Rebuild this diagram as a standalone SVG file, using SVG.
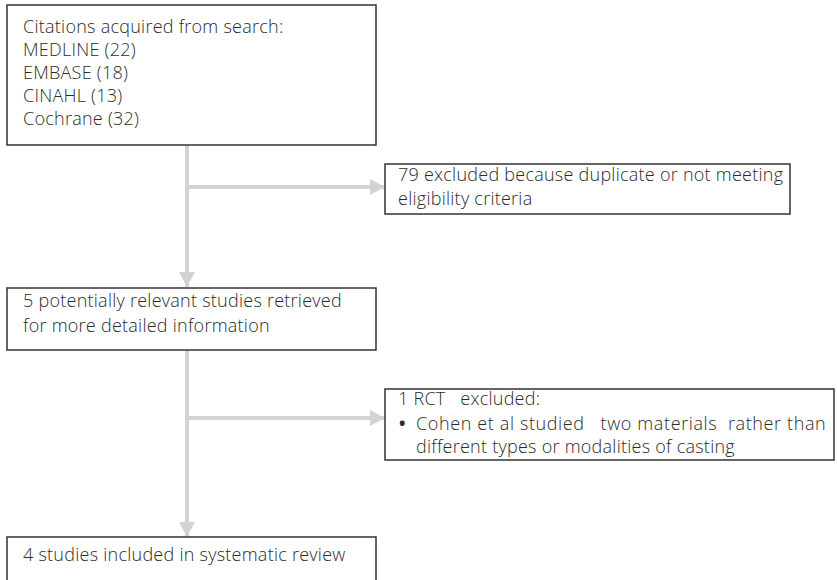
<svg xmlns="http://www.w3.org/2000/svg" width="837" height="580" viewBox="0 0 837 580">
<defs>
<style>
.box{fill:#fff;stroke:#333;stroke-width:1.5}
.t{font-family:"Open Sans","Noto Sans","Liberation Sans",sans-serif;font-size:18px;font-weight:300;letter-spacing:0.25px;fill:#2b2b2b;white-space:pre}
.b{font-family:"Open Sans","Noto Sans","Liberation Sans",sans-serif;font-size:17px;font-weight:700;fill:#2b2b2b}
.c{stroke:#d3d3d3;stroke-width:4;fill:none}
</style>
<marker id="ah" markerUnits="userSpaceOnUse" markerWidth="16" markerHeight="16" refX="15" refY="8" orient="auto">
<path d="M0,0 L15,8 L0,16 Z" fill="#d3d3d3"/>
</marker>
</defs>
<rect width="837" height="580" fill="#fff"/>
<g id="connectors">
<path class="c" d="M187,145 V287" marker-end="url(#ah)"/>
<path class="c" d="M187,187 H385" marker-end="url(#ah)"/>
<path class="c" d="M187,350 V537" marker-end="url(#ah)"/>
<path class="c" d="M187,418 H385" marker-end="url(#ah)"/>
</g>
<g id="n1">
<rect class="box" x="7" y="5" width="369" height="140"/>
<text class="t" x="23" y="33">Citations acquired from search:</text>
<text class="t" x="23" y="56">MEDLINE (22)</text>
<text class="t" x="23" y="79">EMBASE (18)</text>
<text class="t" x="23" y="102">CINAHL (13)</text>
<text class="t" x="23" y="125">Cochrane (32)</text>
</g>
<g id="n2">
<rect class="box" x="385" y="164" width="405" height="50"/>
<text class="t" x="398" y="181">79 excluded because duplicate or not meeting</text>
<text class="t" x="398" y="205">eligibility criteria</text>
</g>
<g id="n3">
<rect class="box" x="7" y="288" width="369" height="62"/>
<text class="t" x="23" y="307">5 potentially relevant studies retrieved</text>
<text class="t" x="23" y="332">for more detailed information</text>
</g>
<g id="n4">
<rect class="box" x="385" y="389" width="449" height="71"/>
<text class="t" x="398" y="405" xml:space="preserve">1 RCT   excluded:</text>
<text class="b" x="399" y="430">•</text>
<text class="t" x="416" y="430" xml:space="preserve" textLength="410" lengthAdjust="spacing">Cohen et al studied   two materials  rather than</text>
<text class="t" x="416" y="453">different types or modalities of casting</text>
</g>
<g id="n5">
<rect class="box" x="7" y="537" width="369" height="45"/>
<text class="t" x="23" y="561">4 studies included in systematic review</text>
</g>
</svg>
